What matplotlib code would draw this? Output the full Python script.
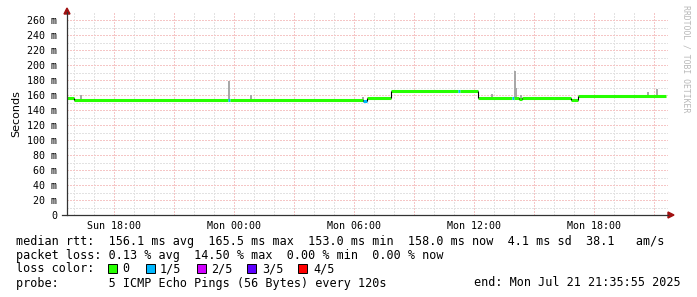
import numpy as np
import matplotlib
matplotlib.use("Agg")
import matplotlib.pyplot as plt
from matplotlib.patches import Rectangle, Polygon
from matplotlib.lines import Line2D

# ---------------- data (hours since Sun 00:00) ----------------
seg_start = [15.65, 16.00, 23.70, 23.80, 30.45, 30.65, 31.85, 35.20, 35.30,
             36.20, 37.90, 38.00, 38.25, 38.40, 40.85, 41.20]
seg_end_time = 45.60
seg_rtt = [156.4, 153.2, 153.2, 153.2, 152.5, 155.8, 165.5, 165.5, 165.5,
           156.0, 156.0, 156.0, 155.2, 156.0, 153.2, 158.5]
seg_loss = [0, 0, 1, 0, 1, 0, 0, 1, 0, 0, 1, 0, 0, 0, 0, 0]

smoke_time = [16.35, 23.77, 24.85, 30.45, 32.05, 36.90, 38.05, 38.12, 38.35, 39.65, 44.70, 45.15]
smoke_top = [160.0, 179.0, 160.0, 158.0, 167.0, 161.0, 192.0, 169.0, 160.0, 158.0, 164.0, 168.0]

x_tick_pos = [18, 24, 30, 36, 42]
x_tick_labels = ["Sun 18:00", "Mon 00:00", "Mon 06:00", "Mon 12:00", "Mon 18:00"]
y_ticks = list(range(0, 261, 20))

loss_labels = ["0", "1/5", "2/5", "3/5", "4/5"]
loss_colors = ["#26ff00", "#00b8ff", "#d000ff", "#5e00ff", "#ff0000"]

line_rtt = "median rtt:  156.1 ms avg  165.5 ms max  153.0 ms min  158.0 ms now  4.1 ms sd  38.1   am/s"
line_loss = "packet loss: 0.13 % avg  14.50 % max  0.00 % min  0.00 % now"
line_probe = "probe:       5 ICMP Echo Pings (56 Bytes) every 120s"
line_end = "end: Mon Jul 21 21:35:55 2025"

# ---------------- figure ----------------
W, H = 697, 297
fig = plt.figure(figsize=(W / 100, H / 100), dpi=100)
fig.patch.set_facecolor("white")

x0_px, x1_px, y0_px, y1_px = 67, 668, 215, 12.5
ax = fig.add_axes([x0_px / W, 1 - y0_px / H, (x1_px - x0_px) / W, (y0_px - y1_px) / H])
ax.set_facecolor("white")
xmin, xmax = 15.65, 15.65 + (x1_px - x0_px) / 20.0
ymin, ymax = 0, (y0_px - y1_px) / 0.75
ax.set_xlim(xmin, xmax)
ax.set_ylim(ymin, ymax)
for s in ax.spines.values():
    s.set_visible(False)

mono = "DejaVu Sans Mono"
dot = (0, (1.39, 1.39))
minor_col = "#e2e2e2"
major_col = "#f5c6c6"
gkw = dict(lw=0.72, ls=dot, zorder=1, antialiased=False)

# grids
for h in np.arange(np.ceil(xmin), xmax, 1.0):
    if h % 3 != 0:
        ax.axvline(h, color=minor_col, **gkw)
for h in np.arange(np.ceil(xmin / 3) * 3, xmax, 3.0):
    ax.axvline(h, color=major_col, **gkw)
for v in np.arange(10, ymax, 20):
    ax.axhline(v, color=minor_col, **gkw)
for v in y_ticks[1:]:
    ax.axhline(v, color=major_col, **gkw)

ax.set_xticks(x_tick_pos)
ax.set_xticklabels(x_tick_labels, fontfamily=mono, fontsize=7.2)
ax.set_yticks(y_ticks)
ax.set_yticklabels([("%d m" % v) if v else "0" for v in y_ticks], fontfamily=mono, fontsize=7.2)
ax.tick_params(axis="both", length=0, colors="black")
ax.tick_params(axis="y", pad=7)
ax.tick_params(axis="x", pad=4)
ax.set_ylabel("Seconds", fontsize=8, labelpad=4)

# smoke
seg_start_arr = np.array(seg_start)
for t, top in zip(smoke_time, smoke_top):
    i = np.searchsorted(seg_start_arr, t, side="right") - 1
    base = seg_rtt[i]
    ax.bar(t, top - base, bottom=base, width=0.1, color="#a8a8a8", zorder=2, linewidth=0)

# median line segments coloured by loss
ends = seg_start[1:] + [seg_end_time]
for i, (s, e, v, l) in enumerate(zip(seg_start, ends, seg_rtt, seg_loss)):
    ax.hlines(v, s, e, color=loss_colors[l], lw=2.2, zorder=3, capstyle="butt")
    if i + 1 < len(seg_rtt) and abs(seg_rtt[i + 1] - v) > 0.5:
        ax.vlines(e, min(v, seg_rtt[i + 1]), max(v, seg_rtt[i + 1]), color="black", lw=0.8, zorder=4)

# axis lines and arrows (figure pixel coords)
def fx(px):
    return px / W

def fy(py):
    return 1 - py / H

fig.add_artist(Line2D([fx(62), fx(668)], [fy(215), fy(215)], color="#333333", lw=0.9))
fig.add_artist(Line2D([fx(67), fx(67)], [fy(215), fy(12)], color="#333333", lw=0.9))
fig.add_artist(Polygon([[fx(668), fy(212)], [fx(674), fy(215)], [fx(668), fy(218)]],
                       closed=True, color="#a01010"))
fig.add_artist(Polygon([[fx(64), fy(14)], [fx(67), fy(8)], [fx(70), fy(14)]],
                       closed=True, color="#a01010"))

# watermark
fig.text(fx(686), fy(5), "RRDTOOL / TOBI OETIKER", rotation=270, ha="center", va="top",
         fontfamily=mono, fontsize=5.9, color="#b8b8b8")

# legend / stats text
fs = 8.5
tkw = dict(fontfamily=mono, fontsize=fs, va="center", ha="left")
fig.text(fx(16), fy(241), line_rtt, **tkw)
fig.text(fx(16), fy(255), line_loss, **tkw)
fig.text(fx(16), fy(269), "loss color:", **tkw)
sq_x = [108, 146, 197, 247, 298]
lab_x = [122, 160, 211, 262, 313]
for sx, lx, lab, col in zip(sq_x, lab_x, loss_labels, loss_colors):
    fig.add_artist(Rectangle((fx(sx), fy(273)), 9 / W, 9 / H, facecolor=col,
                             edgecolor="black", lw=0.7))
    fig.text(fx(lx), fy(269), lab, **tkw)
fig.text(fx(16), fy(283), line_probe, **tkw)
fig.text(fx(681), fy(283), line_end, fontfamily=mono, fontsize=fs, va="center", ha="right")

fig.savefig("out.png", dpi=100)
